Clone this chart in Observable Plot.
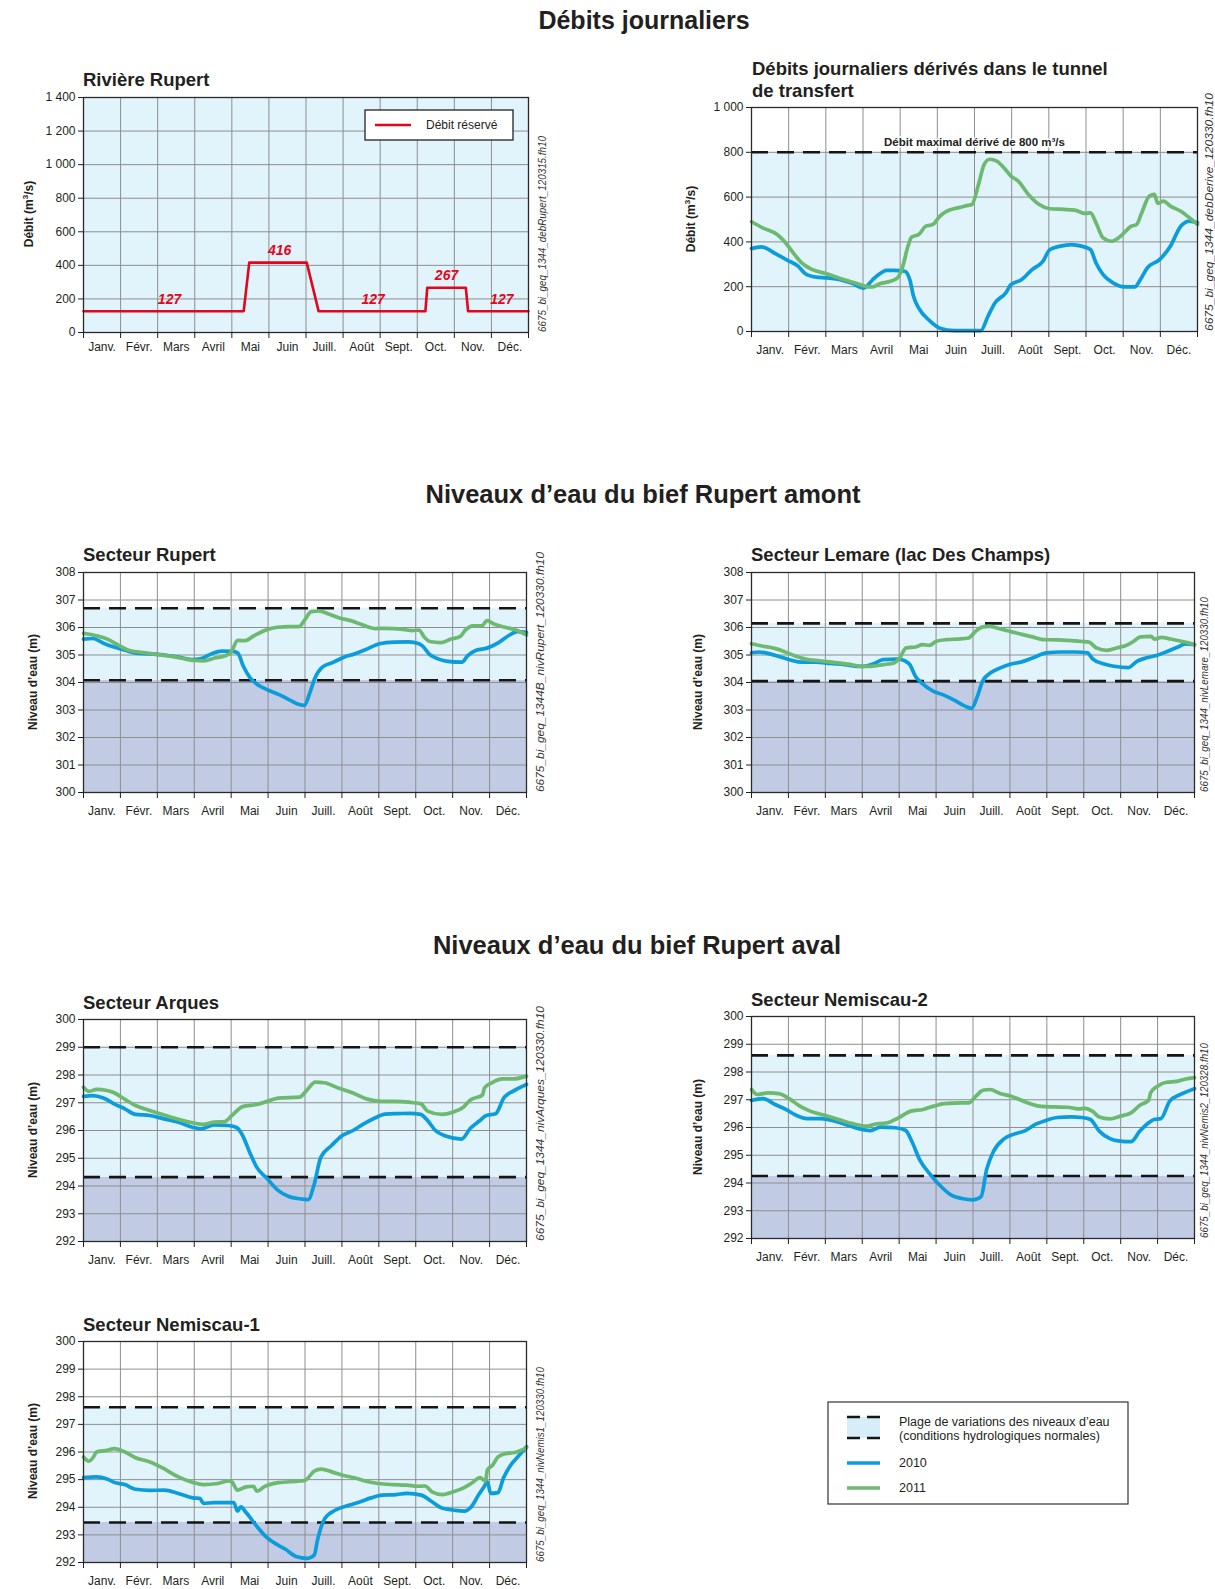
<!DOCTYPE html>
<html><head><meta charset="utf-8">
<script src="https://cdn.jsdelivr.net/npm/d3@7"></script>
<script src="https://cdn.jsdelivr.net/npm/@observablehq/plot@0.6"></script>
<style>
body{margin:0;background:#fff;}
#page{position:relative;width:1215px;height:1589px;overflow:hidden;font-family:'Liberation Sans',Arial,Helvetica,sans-serif;}
.panel{position:absolute;}
</style></head><body><div id="page"></div>
<script>
// ---------- DATA ----------
const monthLabels = ["Janv.","Févr.","Mars","Avril","Mai","Juin","Juill.","Août","Sept.","Oct.","Nov.","Déc."];
const xDomain = [0, 12];
const monthEdges = d3.range(0, 13);
const monthMids = d3.range(0.5, 12, 1);

const flowTicksRupert = [0,200,400,600,800,1000,1200,1400];
const flowTicksDerive = [0,200,400,600,800,1000];
const levelTicksAmont = [300,301,302,303,304,305,306,307,308];
const levelTicksAval = [292,293,294,295,296,297,298,299,300];

const reserveFlow = [[0,127],[4.32,127],[4.47,416],[6.02,416],[6.34,127],[9.22,127],[9.27,267],[10.31,267],[10.37,127],[12,127]];
const reserveLabels = [[2.32,127],[5.29,416],[7.81,127],[9.79,267],[11.28,127]];

const maxDerive = [800];
const derive2010 = [[0,370],[0.26,378],[0.69,343],[0.97,318],[1.26,291],[1.45,258],[1.73,243],[2.02,239],[2.31,234],[2.69,216],[3.02,194],[3.26,231],[3.36,246],[3.64,273],[3.83,273],[4.12,269],[4.26,231],[4.36,157],[4.5,104],[4.79,49],[5.07,15],[5.45,4],[5.83,4],[6.17,4],[6.36,67],[6.55,127],[6.84,172],[6.98,209],[7.26,231],[7.55,276],[7.84,313],[8.03,366],[8.31,381],[8.6,388],[8.88,381],[9.12,366],[9.27,306],[9.46,254],[9.74,216],[10.03,199],[10.31,199],[10.46,231],[10.65,284],[10.98,321],[11.27,381],[11.55,470],[11.79,493],[12,485]];
const derive2011 = [[0,490],[0.3,463],[0.69,433],[0.88,403],[1.16,343],[1.35,306],[1.64,276],[2.02,258],[2.5,231],[2.88,212],[3.16,199],[3.26,199],[3.45,213],[3.74,224],[3.93,239],[4.07,291],[4.21,381],[4.31,422],[4.5,433],[4.69,470],[4.88,478],[5.07,515],[5.26,537],[5.55,552],[5.83,563],[5.93,567],[6.12,664],[6.26,746],[6.41,769],[6.6,761],[6.79,731],[6.98,694],[7.17,672],[7.45,612],[7.74,567],[8.03,548],[8.41,545],[8.69,542],[8.98,527],[9.12,530],[9.27,485],[9.46,418],[9.69,403],[9.93,425],[10.22,470],[10.36,478],[10.5,530],[10.7,604],[10.84,612],[10.93,572],[11.08,582],[11.27,560],[11.55,537],[11.84,500],[12,478]];

const bandRupert = [304.08, 306.7];
const rupert2010 = [[0,305.58],[0.25,305.6],[0.54,305.43],[0.83,305.29],[1.13,305.17],[1.42,305.07],[1.81,305.04],[2.19,305.0],[2.58,304.92],[2.97,304.83],[3.17,304.86],[3.46,305.04],[3.75,305.14],[4.04,305.13],[4.18,305.07],[4.33,304.59],[4.52,304.16],[4.72,303.92],[5.01,303.72],[5.3,303.56],[5.59,303.36],[5.84,303.2],[5.98,303.17],[6.13,303.62],[6.27,304.16],[6.47,304.56],[6.76,304.73],[7.05,304.92],[7.34,305.04],[7.63,305.19],[8.02,305.41],[8.41,305.47],[8.8,305.48],[9.09,305.41],[9.18,305.33],[9.38,305.01],[9.62,304.85],[9.86,304.77],[10.25,304.74],[10.4,304.97],[10.64,305.17],[10.93,305.25],[11.22,305.43],[11.51,305.7],[11.75,305.85],[12,305.82]];
const rupert2011 = [[0,305.79],[0.35,305.7],[0.64,305.58],[0.93,305.37],[1.22,305.17],[1.61,305.09],[2.0,305.02],[2.39,304.95],[2.78,304.85],[3.02,304.8],[3.26,304.79],[3.55,304.89],[3.84,304.97],[3.99,305.09],[4.18,305.53],[4.38,305.52],[4.62,305.7],[4.91,305.89],[5.25,306.01],[5.59,306.03],[5.84,306.03],[5.98,306.25],[6.17,306.58],[6.37,306.6],[6.66,306.48],[6.95,306.34],[7.24,306.25],[7.53,306.11],[7.92,305.96],[8.21,305.97],[8.6,305.94],[8.89,305.89],[9.09,305.91],[9.23,305.65],[9.38,305.49],[9.67,305.45],[9.96,305.58],[10.2,305.67],[10.35,305.91],[10.54,306.06],[10.79,306.06],[10.93,306.25],[11.13,306.12],[11.42,306.01],[11.71,305.91],[12,305.73]];

const bandLemare = [304.05, 306.15];
const lemare2010 = [[0,305.08],[0.21,305.11],[0.5,305.04],[0.79,304.93],[1.08,304.81],[1.36,304.74],[1.75,304.74],[2.13,304.69],[2.52,304.65],[2.9,304.59],[3.05,304.59],[3.29,304.67],[3.57,304.83],[3.96,304.85],[4.15,304.79],[4.29,304.65],[4.44,304.23],[4.63,303.96],[4.92,303.69],[5.21,303.54],[5.49,303.36],[5.78,303.14],[5.96,303.06],[6.12,303.5],[6.26,304.05],[6.5,304.37],[6.74,304.53],[7.03,304.67],[7.32,304.75],[7.61,304.89],[7.99,305.08],[8.38,305.11],[8.76,305.11],[9.1,305.08],[9.24,304.86],[9.53,304.68],[9.82,304.59],[10.2,304.54],[10.44,304.77],[10.68,304.89],[10.97,304.98],[11.26,305.13],[11.55,305.29],[11.74,305.4],[12,305.38]];
const lemare2011 = [[0,305.41],[0.31,305.32],[0.6,305.25],[0.88,305.13],[1.17,304.97],[1.46,304.85],[1.84,304.79],[2.23,304.73],[2.61,304.67],[2.99,304.59],[3.24,304.59],[3.57,304.65],[3.86,304.71],[4.0,304.86],[4.19,305.26],[4.44,305.29],[4.63,305.38],[4.82,305.35],[5.01,305.5],[5.3,305.56],[5.59,305.58],[5.88,305.62],[6.07,305.86],[6.26,306.02],[6.45,306.04],[6.74,305.95],[7.03,305.85],[7.32,305.75],[7.61,305.66],[7.9,305.56],[8.28,305.55],[8.66,305.52],[8.95,305.49],[9.14,305.47],[9.34,305.26],[9.63,305.17],[9.9,305.26],[10.2,305.38],[10.35,305.5],[10.54,305.66],[10.82,305.68],[10.92,305.58],[11.11,305.64],[11.35,305.58],[11.64,305.5],[11.83,305.44],[12,305.37]];

const bandArques = [294.32, 299.0];
const arques2010 = [[0,297.23],[0.25,297.26],[0.54,297.17],[0.83,296.96],[1.12,296.78],[1.41,296.58],[1.8,296.54],[2.18,296.42],[2.57,296.3],[2.95,296.12],[3.19,296.06],[3.53,296.2],[3.92,296.18],[4.16,296.1],[4.31,295.82],[4.5,295.22],[4.69,294.68],[4.98,294.26],[5.27,293.84],[5.56,293.62],[5.85,293.54],[6.09,293.51],[6.24,294.02],[6.43,295.04],[6.72,295.46],[7.01,295.82],[7.3,296.0],[7.59,296.24],[7.88,296.44],[8.17,296.59],[8.55,296.61],[8.84,296.62],[9.13,296.58],[9.32,296.36],[9.52,296.02],[9.81,295.8],[10.24,295.69],[10.48,296.08],[10.72,296.34],[10.91,296.54],[11.16,296.6],[11.4,297.2],[11.64,297.42],[12,297.66]];
const arques2011 = [[0,297.56],[0.15,297.41],[0.35,297.48],[0.64,297.44],[0.83,297.36],[1.12,297.12],[1.41,296.9],[1.8,296.72],[2.18,296.56],[2.57,296.4],[2.95,296.28],[3.24,296.22],[3.53,296.3],[3.82,296.32],[4.02,296.54],[4.31,296.86],[4.69,296.94],[4.98,297.05],[5.27,297.17],[5.85,297.2],[6.04,297.44],[6.28,297.74],[6.52,297.72],[6.9,297.53],[7.28,297.36],[7.66,297.14],[8.05,297.05],[8.43,297.05],[8.82,297.02],[8.94,297.0],[9.13,296.97],[9.32,296.7],[9.71,296.58],[10.0,296.66],[10.29,296.84],[10.48,297.1],[10.81,297.28],[10.86,297.53],[11.06,297.72],[11.35,297.86],[11.64,297.86],[12,297.96]];

const bandNemis2 = [294.25, 298.6];
const nemis2_2010 = [[0,296.97],[0.31,297.04],[0.64,296.83],[0.93,296.65],[1.21,296.44],[1.5,296.32],[1.88,296.32],[2.26,296.23],[2.64,296.07],[2.93,295.95],[3.22,295.89],[3.5,296.01],[3.89,295.99],[4.17,295.9],[4.36,295.45],[4.55,294.85],[4.84,294.31],[5.12,293.89],[5.41,293.56],[5.7,293.44],[5.99,293.39],[6.22,293.51],[6.37,294.49],[6.56,295.15],[6.84,295.59],[7.13,295.77],[7.42,295.89],[7.7,296.12],[7.99,296.26],[8.28,296.36],[8.66,296.38],[8.95,296.36],[9.18,296.29],[9.42,295.87],[9.71,295.6],[9.99,295.51],[10.28,295.49],[10.52,295.87],[10.76,296.17],[10.9,296.29],[11.09,296.32],[11.33,296.95],[11.62,297.19],[12,297.4]];
const nemis2_2011 = [[0,297.37],[0.16,297.19],[0.45,297.25],[0.74,297.22],[1.02,297.04],[1.31,296.77],[1.59,296.59],[1.98,296.44],[2.36,296.29],[2.74,296.14],[3.12,296.05],[3.31,296.11],[3.69,296.17],[3.98,296.35],[4.32,296.59],[4.65,296.65],[4.94,296.77],[5.22,296.86],[5.7,296.89],[5.89,296.89],[6.08,297.13],[6.27,297.34],[6.46,297.37],[6.75,297.22],[7.03,297.13],[7.42,296.92],[7.8,296.77],[8.18,296.74],[8.56,296.73],[8.85,296.67],[9.04,296.69],[9.23,296.59],[9.42,296.38],[9.71,296.31],[9.99,296.41],[10.28,296.53],[10.52,296.8],[10.76,296.98],[10.81,297.25],[11.0,297.49],[11.24,297.63],[11.52,297.66],[11.76,297.75],[12,297.8]];

const bandNemis1 = [293.45, 297.62];
const nemis1_2010 = [[0,295.07],[0.35,295.1],[0.64,295.02],[0.83,294.9],[1.12,294.82],[1.41,294.65],[1.8,294.61],[2.19,294.62],[2.57,294.5],[2.96,294.34],[3.15,294.32],[3.25,294.14],[3.54,294.17],[3.93,294.17],[4.07,294.17],[4.17,293.86],[4.26,294.01],[4.41,293.8],[4.7,293.3],[4.94,292.94],[5.18,292.7],[5.47,292.48],[5.76,292.22],[6.05,292.15],[6.25,292.27],[6.34,292.82],[6.54,293.6],[6.83,293.9],[7.21,294.08],[7.5,294.2],[7.79,294.34],[8.08,294.44],[8.47,294.46],[8.76,294.5],[9.15,294.44],[9.44,294.2],[9.73,293.96],[10.02,293.9],[10.31,293.86],[10.5,294.01],[10.7,294.44],[10.85,294.74],[10.94,294.92],[11.03,294.5],[11.23,294.53],[11.37,295.04],[11.57,295.52],[11.76,295.82],[12,296.19]];
const nemis1_2011 = [[0,295.82],[0.14,295.67],[0.27,295.82],[0.35,296.0],[0.64,296.06],[0.83,296.12],[1.12,296.0],[1.41,295.79],[1.8,295.64],[2.09,295.46],[2.57,295.1],[2.96,294.9],[3.25,294.82],[3.64,294.86],[3.93,294.95],[4.02,294.92],[4.17,294.62],[4.41,294.74],[4.6,294.76],[4.7,294.58],[4.89,294.74],[5.28,294.89],[5.86,294.95],[6.01,294.98],[6.25,295.31],[6.44,295.38],[6.73,295.28],[7.02,295.16],[7.41,295.04],[7.6,294.96],[7.99,294.86],[8.37,294.82],[8.76,294.8],[9.05,294.76],[9.25,294.77],[9.44,294.56],[9.73,294.46],[10.02,294.56],[10.31,294.71],[10.5,294.86],[10.74,295.07],[10.89,294.95],[10.94,295.35],[11.08,295.52],[11.23,295.82],[11.43,295.94],[11.67,295.98],[12,296.15]];

// ---------- STYLE ----------
const FONT = "'Liberation Sans', Arial, Helvetica, sans-serif";
const C = {blue:"#0b9cdb", green:"#6cb96f", red:"#e1061b", light:"#e1f3fb", dark:"#c1cce4", grid:"#8e8e8e", dash:"#151515", text:"#231f20"};
const fmtSpace = d3.formatLocale({thousands:"\u00a0", grouping:[3], decimal:","}).format(",");
const page = document.getElementById("page");

const mL = 50, mR = 4, mT = 4, mB = 30;

function place(plot, L, T){
  const div = document.createElement("div");
  div.className = "panel";
  div.style.left = (L - mL) + "px";
  div.style.top = (T - mT) + "px";
  div.appendChild(plot);
  page.appendChild(div);
}

function axes(yTicks, yFmt, pad){
  return [
    Plot.frame({stroke:"#2a2a2a", strokeWidth:1.3}),
    Plot.axisY(yTicks, {tickSize:5, tickPadding:3, tickFormat:yFmt, label:null, fontSize:12}),
    Plot.axisX(monthEdges, {tickSize:6, tickFormat:() => "", label:null}),
    Plot.axisX(monthMids, {tickSize:0, tickPadding:pad, tickFormat:d => monthLabels[Math.floor(d)], label:null, fontSize:12})
  ];
}
function grid(yTicks){
  return [
    Plot.ruleX(monthEdges, {stroke:C.grid, strokeWidth:1}),
    Plot.ruleY(yTicks, {stroke:C.grid, strokeWidth:1})
  ];
}
function series(data, color){
  return Plot.line(data, {x:d => d[0], y:d => d[1], stroke:color, strokeWidth:3.7, curve:"monotone-x", strokeLinejoin:"round", strokeLinecap:"round"});
}
function basePlot(w, h, yDomain, marks){
  return Plot.plot({
    width: w + mL + mR, height: h + mT + mB,
    marginLeft: mL, marginRight: mR, marginTop: mT, marginBottom: mB,
    x: {domain: xDomain},
    y: {domain: yDomain},
    style: {fontFamily: FONT, fontSize: "12px", color: C.text, background: "transparent", overflow: "visible"},
    marks
  });
}

// Panel 1: Rivière Rupert
place(basePlot(445, 235, [0,1400], [
  Plot.frame({fill:C.light, stroke:null}),
  ...grid(flowTicksRupert),
  Plot.line(reserveFlow, {x:d => d[0], y:d => d[1], stroke:C.red, strokeWidth:2.6}),
  Plot.text(reserveLabels, {x:d => d[0], y:d => d[1], text:d => String(d[1]), dy:-12, fill:C.red, fontWeight:"bold", fontStyle:"italic", fontSize:14}),
  ...axes(flowTicksRupert, fmtSpace, 10)
]), 83, 97);

// Panel 2: Débits dérivés
place(basePlot(446, 224, [0,1000], [
  Plot.rect(maxDerive, {x1:() => xDomain[0], x2:() => xDomain[1], y1:() => 0, y2:d => d, fill:C.light}),
  ...grid(flowTicksDerive),
  Plot.ruleY(maxDerive, {stroke:C.dash, strokeWidth:2.6, strokeDasharray:"17,9"}),
  Plot.text(maxDerive, {x:() => (xDomain[0]+xDomain[1])/2, y:d => d, text:d => `Débit maximal dérivé de ${d} m³/s`, dy:-10, fontWeight:"bold", fontSize:11.5, fill:"#222", stroke:"white", strokeWidth:3}),
  series(derive2010, C.blue),
  series(derive2011, C.green),
  ...axes(flowTicksDerive, fmtSpace, 14)
]), 751, 107);

function levelPanel(L, T, w, h, yDomain, yTicks, band, s2010, s2011){
  place(basePlot(w, h, yDomain, [
    Plot.rect([band], {x1:() => xDomain[0], x2:() => xDomain[1], y1:() => yDomain[0], y2:d => d[0], fill:C.dark}),
    Plot.rect([band], {x1:() => xDomain[0], x2:() => xDomain[1], y1:d => d[0], y2:d => d[1], fill:C.light}),
    ...grid(yTicks),
    Plot.ruleY(band, {stroke:C.dash, strokeWidth:2.6, strokeDasharray:"17,9"}),
    series(s2010, C.blue),
    series(s2011, C.green),
    ...axes(yTicks, d => d, 14)
  ]), L, T);
}
levelPanel(83, 572, 443, 220, [300,308], levelTicksAmont, bandRupert, rupert2010, rupert2011);
levelPanel(751, 572, 443, 220, [300,308], levelTicksAmont, bandLemare, lemare2010, lemare2011);
levelPanel(83, 1019, 443, 222, [292,300], levelTicksAval, bandArques, arques2010, arques2011);
levelPanel(751, 1016, 443, 222, [292,300], levelTicksAval, bandNemis2, nemis2_2010, nemis2_2011);
levelPanel(83, 1341, 443, 221, [292,300], levelTicksAval, bandNemis1, nemis1_2010, nemis1_2011);

// ---------- OVERLAY TEXT / LEGENDS ----------
const svg = d3.select(page).append("svg")
  .attr("width", 1215).attr("height", 1589)
  .style("position","absolute").style("left","0px").style("top","0px")
  .style("font-family", FONT).attr("fill", C.text);

function title(x, y, txt, size, anchor){
  svg.append("text").attr("x", x).attr("y", y).attr("font-size", size).attr("font-weight","bold")
    .attr("text-anchor", anchor || "start").text(txt);
}
title(644, 29, "Débits journaliers", 25, "middle");
title(643, 503, "Niveaux d’eau du bief Rupert amont", 25.5, "middle");
title(637, 954, "Niveaux d’eau du bief Rupert aval", 25.5, "middle");
title(83, 86, "Rivière Rupert", 18.5);
title(752, 75, "Débits journaliers dérivés dans le tunnel", 18.5);
title(752, 97, "de transfert", 18.5);
title(83, 561, "Secteur Rupert", 18.5);
title(751, 561, "Secteur Lemare (lac Des Champs)", 18.5);
title(83, 1009, "Secteur Arques", 18.5);
title(751, 1006, "Secteur Nemiscau-2", 18.5);
title(83, 1331, "Secteur Nemiscau-1", 18.5);

function yLabelFlow(x, cy){
  const t = svg.append("text").attr("transform", `translate(${x},${cy}) rotate(-90)`)
    .attr("text-anchor","middle").attr("font-size",12).attr("font-weight","bold");
  t.append("tspan").text("Débit (m");
  t.append("tspan").attr("font-size",8).attr("dy",-5).text("3");
  t.append("tspan").attr("dy",5).text("/s)");
}
function yLabelLevel(x, cy){
  svg.append("text").attr("transform", `translate(${x},${cy}) rotate(-90)`)
    .attr("text-anchor","middle").attr("font-size",12).attr("font-weight","bold").text("Niveau d’eau (m)");
}
yLabelFlow(33, 214);
yLabelFlow(695, 219);
yLabelLevel(37, 682);
yLabelLevel(702, 682);
yLabelLevel(37, 1130);
yLabelLevel(702, 1127);
yLabelLevel(37, 1451);

function fileName(x, bottom, txt, len){
  svg.append("text").attr("transform", `translate(${x},${bottom}) rotate(-90)`)
    .attr("font-size", 11.5).attr("font-style","italic").attr("fill","#333")
    .attr("textLength", len).attr("lengthAdjust","spacingAndGlyphs").text(txt);
}
fileName(546, 332, "6675_bi_geq_1344_debRupert_120315.fh10", 196);
fileName(1213, 331, "6675_bi_geq_1344_debDerive_120330.fh10", 238);
fileName(544, 792, "6675_bi_geq_1344B_nivRupert_120330.fh10", 240);
fileName(1208, 792, "6675_bi_geq_1344_nivLemare_120330.fh10", 195);
fileName(544, 1241, "6675_bi_geq_1344_nivArques_120330.fh10", 235);
fileName(1208, 1238, "6675_bi_geq_1344_nivNemis2_120328.fh10", 195);
fileName(544, 1562, "6675_bi_geq_1344_nivNemis1_120330.fh10", 195);

// Legend inside Rivière Rupert panel
svg.append("rect").attr("x",365).attr("y",110).attr("width",148).attr("height",30)
  .attr("fill","white").attr("stroke","#333").attr("stroke-width",1.4);
svg.append("line").attr("x1",375).attr("x2",411).attr("y1",125).attr("y2",125).attr("stroke",C.red).attr("stroke-width",2.6);
svg.append("text").attr("x",426).attr("y",129).attr("font-size",12).text("Débit réservé");

// Bottom legend
svg.append("rect").attr("x",828).attr("y",1402).attr("width",300).attr("height",102)
  .attr("fill","white").attr("stroke","#333").attr("stroke-width",1.2);
svg.append("rect").attr("x",847).attr("y",1417).attr("width",33).attr("height",21).attr("fill","#d6eef9");
[1417, 1438].forEach(y => svg.append("line").attr("x1",847).attr("x2",880).attr("y1",y).attr("y2",y)
  .attr("stroke",C.dash).attr("stroke-width",2.4).attr("stroke-dasharray","13,7"));
svg.append("text").attr("x",899).attr("y",1426).attr("font-size",12.5).text("Plage de variations des niveaux d’eau");
svg.append("text").attr("x",899).attr("y",1440).attr("font-size",12.5).text("(conditions hydrologiques normales)");
svg.append("line").attr("x1",847).attr("x2",880).attr("y1",1463).attr("y2",1463).attr("stroke",C.blue).attr("stroke-width",3.6);
svg.append("text").attr("x",899).attr("y",1467).attr("font-size",12.5).text("2010");
svg.append("line").attr("x1",847).attr("x2",880).attr("y1",1488).attr("y2",1488).attr("stroke",C.green).attr("stroke-width",3.6);
svg.append("text").attr("x",899).attr("y",1492).attr("font-size",12.5).text("2011");
</script></body></html>
